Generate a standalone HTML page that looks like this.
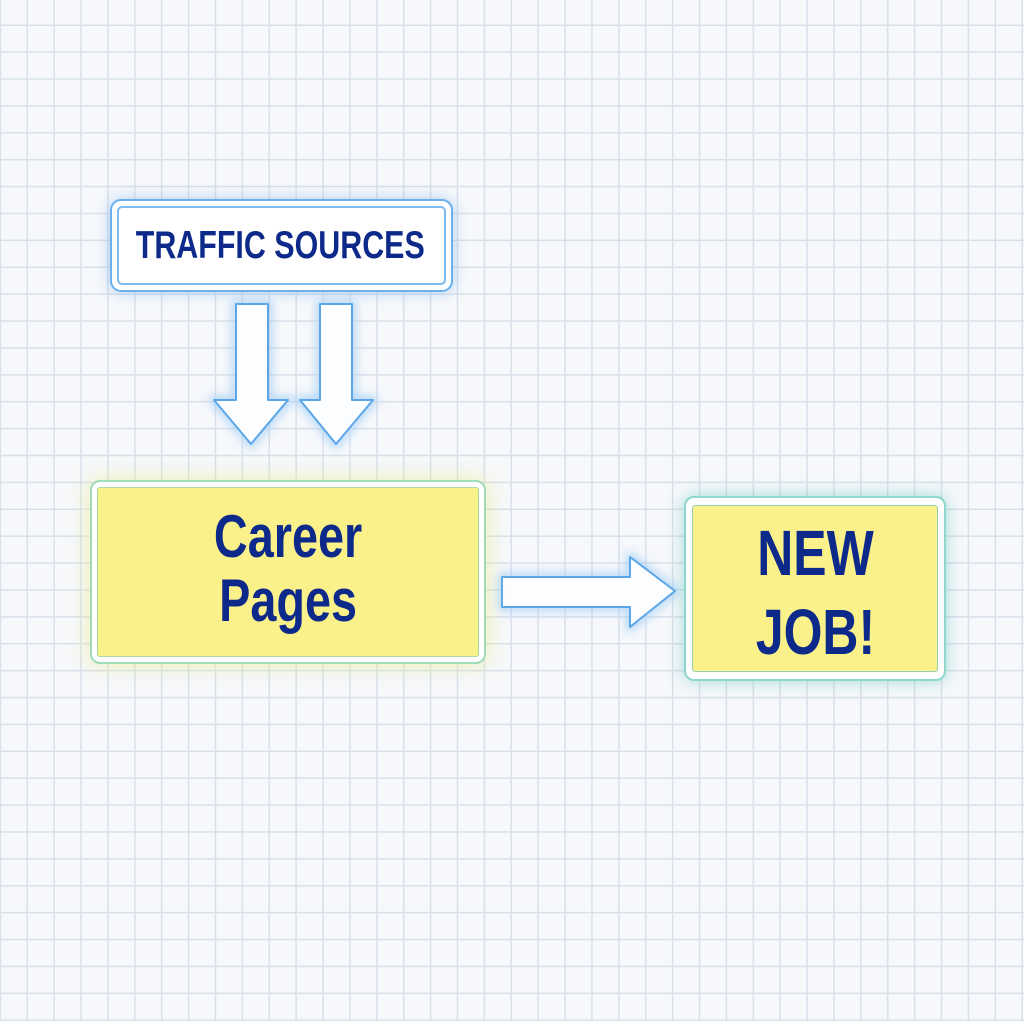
<!DOCTYPE html>
<html><head><style>
html,body{margin:0;padding:0;}
body{width:1024px;height:1021px;position:relative;overflow:hidden;background-color:#f6f8fb;
background-image:linear-gradient(to right,#d8e0ea 1.5px,transparent 1.5px),linear-gradient(to bottom,#d8e0ea 1.5px,transparent 1.5px);
background-size:26.9px 26.9px;background-position:26.5px 24.5px;}
.box{position:absolute;box-sizing:border-box;}
.t{position:absolute;left:0;right:0;text-align:center;font-family:"Liberation Sans",sans-serif;font-weight:bold;color:#0d2a8a;white-space:nowrap;}
.t span{display:inline-block;transform:scaleX(0.78);}
</style></head><body>
<div class="box" style="left:110px;top:199px;width:343px;height:93px;background:#fff;border:2px solid #6ab0ec;border-radius:11px;box-shadow:0 0 14px rgba(90,160,240,0.45);"></div>
<div class="box" style="left:117px;top:206px;width:329px;height:79px;border:2px solid #7cbaf0;border-radius:5px;"></div>
<div class="t" style="left:60px;width:441px;right:auto;top:223px;font-size:39px;line-height:46px;"><span>TRAFFIC SOURCES</span></div>
<svg width="1024" height="1021" style="position:absolute;left:0;top:0" >
<defs><filter id="g" x="-30%" y="-30%" width="160%" height="160%"><feGaussianBlur stdDeviation="5"/></filter></defs>
<g fill="none" stroke="#9ccaf5" stroke-width="6" filter="url(#g)">
<path d="M236 304H268V400H288L251 444L214 400H236Z"/>
<path d="M320 304H352V400H373L336 444L300 400H320Z"/>
<path d="M502 577H630V557L675 591L630 627V607H502Z"/>
</g>
<g fill="#fbfdff" stroke="#5aa6e8" stroke-width="2" stroke-linejoin="round">
<path d="M236 304H268V400H288L251 444L214 400H236Z"/>
<path d="M320 304H352V400H373L336 444L300 400H320Z"/>
<path d="M502 577H630V557L675 591L630 627V607H502Z"/>
</g>
</svg>
<div class="box" style="left:90px;top:480px;width:396px;height:184px;background:#fff;border:2px solid #9fdcb8;border-radius:10px;box-shadow:0 0 22px rgba(235,235,120,0.6);"></div>
<div class="box" style="left:97px;top:487px;width:382px;height:170px;background:#fbf18a;border:1.5px solid #a8d8a0;border-radius:3px;"></div>
<div class="t" style="left:90px;width:396px;right:auto;top:505px;font-size:60px;line-height:64px;"><span>Career<br>Pages</span></div>
<div class="box" style="left:684px;top:496px;width:262px;height:185px;background:#fff;border:2px solid #8fd6cc;border-radius:10px;box-shadow:0 0 16px rgba(80,190,180,0.5);"></div>
<div class="box" style="left:692px;top:505px;width:246px;height:167px;background:#fbf18a;border:1.5px solid #8fd0b0;border-radius:3px;"></div>
<div class="t" style="left:684px;width:262px;right:auto;top:514px;font-size:64px;line-height:79px;"><span>NEW<br>JOB!</span></div>
</body></html>
